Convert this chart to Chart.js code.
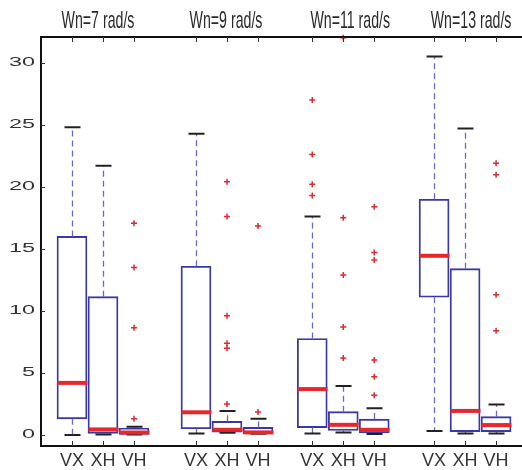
<!DOCTYPE html>
<html>
<head>
<meta charset="utf-8">
<script src="https://cdn.jsdelivr.net/npm/chart.js@4.4.1/dist/chart.umd.min.js"></script>
<style>
  html, body { margin: 0; padding: 0; background: #fff; }
  canvas { display: block; }
</style>
</head>
<body>
<canvas id="chart" width="522" height="470"></canvas>
<script>
// data
const groupTitles = ["Wn=7 rad/s", "Wn=9 rad/s", "Wn=11 rad/s", "Wn=13 rad/s"];
const categories = ["VX", "XH", "VH", "VX", "XH", "VH", "VX", "XH", "VH", "VX", "XH", "VH"];
const lowerWhisker = [0.0, 0.05, 0.05, 0.13, 0.19, 0.1, 0.13, 0.21, 0.08, 0.32, 0.13, 0.13];
const q1 = [1.3, 0.13, 0.05, 0.51, 0.22, 0.1, 0.6, 0.36, 0.17, 11.1, 0.27, 0.27];
const median = [4.2, 0.45, 0.2, 1.83, 0.42, 0.21, 3.7, 0.82, 0.42, 14.44, 1.94, 0.8];
const q3 = [16.0, 11.15, 0.56, 13.6, 1.1, 0.61, 7.77, 1.88, 1.28, 19.0, 13.4, 1.48];
const upperWhisker = [24.8, 21.7, 0.66, 24.27, 1.94, 1.3, 17.6, 3.95, 2.15, 30.5, 24.7, 2.45];
const outliers = [
  [], [], [17.07, 13.5, 8.65, 1.3],
  [], [20.4, 17.6, 9.6, 7.4, 7.0, 2.5], [16.85, 1.85],
  [27.0, 22.6, 20.2, 19.3], [32.0, 17.5, 12.9, 8.7, 6.2], [18.4, 14.7, 14.1, 6.05, 4.7, 3.2],
  [], [], [21.9, 20.97, 11.3, 8.4]
];
const yTicks = [0, 5, 10, 15, 20, 25, 30];

// layout: box centres on the x scale (one unit = one box spacing)
const positions = [1, 2, 3, 5, 6, 7, 8.75, 9.75, 10.75, 12.68, 13.68, 14.68];
const titleShift = [-5, -1, 7, 6];

const BOX_BLUE = "#3838aa";
const WHISKER_BLUE = "#6a6ac4";
const RED = "#e8262b";
const INK = "#111";

const outlierPoints = [];
outliers.forEach(function (list, i) {
  list.forEach(function (v) { outlierPoints.push({ x: positions[i], y: v }); });
});

const boxParts = {
  id: "boxParts",
  afterDatasetsDraw(chart) {
    const ctx = chart.ctx;
    const x = chart.scales.x, y = chart.scales.y;
    ctx.save();
    positions.forEach(function (p, i) {
      const cx = Math.round(x.getPixelForValue(p)) + 0.5;
      const half = 15;
      const capHalf = 8;
      // whiskers
      ctx.strokeStyle = WHISKER_BLUE;
      ctx.lineWidth = 1.3;
      ctx.setLineDash([6, 4]);
      ctx.beginPath();
      ctx.moveTo(cx, y.getPixelForValue(q3[i]));
      ctx.lineTo(cx, y.getPixelForValue(upperWhisker[i]));
      ctx.moveTo(cx, y.getPixelForValue(q1[i]));
      ctx.lineTo(cx, y.getPixelForValue(lowerWhisker[i]));
      ctx.stroke();
      ctx.setLineDash([]);
      // caps
      ctx.strokeStyle = "#222";
      ctx.lineWidth = 2;
      ctx.beginPath();
      [upperWhisker[i], lowerWhisker[i]].forEach(function (v) {
        const py = y.getPixelForValue(v);
        ctx.moveTo(cx - capHalf, py);
        ctx.lineTo(cx + capHalf, py);
      });
      ctx.stroke();
      // median
      ctx.strokeStyle = RED;
      ctx.lineWidth = 4;
      ctx.beginPath();
      const my = y.getPixelForValue(median[i]);
      ctx.moveTo(cx - half, my);
      ctx.lineTo(cx + half, my);
      ctx.stroke();
    });
    ctx.restore();
  },
  afterDraw(chart) {
    const ctx = chart.ctx;
    const a = chart.chartArea;
    const x = chart.scales.x, y = chart.scales.y;
    ctx.save();
    // axis frame (left, top, bottom)
    ctx.strokeStyle = INK;
    ctx.lineWidth = 2;
    ctx.beginPath();
    ctx.moveTo(a.right, a.top);
    ctx.lineTo(a.left, a.top);
    ctx.lineTo(a.left, a.bottom);
    ctx.lineTo(a.right, a.bottom);
    ctx.stroke();
    // ticks
    ctx.lineWidth = 1;
    ctx.strokeStyle = "#333";
    ctx.beginPath();
    yTicks.forEach(function (t) {
      const py = Math.round(y.getPixelForValue(t)) + 0.5;
      ctx.moveTo(a.left, py);
      ctx.lineTo(a.left + 4, py);
    });
    positions.forEach(function (p) {
      const px = Math.round(x.getPixelForValue(p)) + 0.5;
      ctx.moveTo(px, a.top);
      ctx.lineTo(px, a.top + 5);
      ctx.moveTo(px, a.bottom);
      ctx.lineTo(px, a.bottom - 5);
    });
    ctx.stroke();
    // y tick labels (wide, flat digits)
    ctx.fillStyle = "#333";
    ctx.font = "12px 'Liberation Sans', Arial, sans-serif";
    ctx.textAlign = "right";
    ctx.textBaseline = "middle";
    yTicks.forEach(function (t) {
      ctx.save();
      ctx.translate(a.left - 6, y.getPixelForValue(t));
      ctx.scale(1.95, 1);
      ctx.fillText(String(t), 0, 0);
      ctx.restore();
    });
    // category labels
    ctx.font = "18px 'Liberation Sans', Arial, sans-serif";
    ctx.textAlign = "center";
    ctx.textBaseline = "middle";
    categories.forEach(function (c, i) {
      ctx.fillText(c, x.getPixelForValue(positions[i]), a.bottom + 15);
    });
    // group titles (condensed)
    ctx.fillStyle = "#2a2a2a";
    ctx.font = "24px 'Liberation Sans', Arial, sans-serif";
    ctx.textBaseline = "alphabetic";
    groupTitles.forEach(function (t, g) {
      ctx.save();
      ctx.translate(x.getPixelForValue(positions[g * 3 + 1]) + titleShift[g], 28);
      ctx.scale(0.59, 1);
      ctx.fillText(t, 0, 0);
      ctx.restore();
    });
    ctx.restore();
  }
};

new Chart(document.getElementById("chart"), {
  type: "bar",
  data: {
    datasets: [
      {
        type: "bar",
        data: positions.map(function (p, i) { return { x: p, y: [q1[i], q3[i]] }; }),
        backgroundColor: "rgba(0,0,0,0)",
        borderColor: BOX_BLUE,
        borderWidth: 1.2,
        borderSkipped: false,
        barThickness: 30
      },
      {
        type: "scatter",
        data: outlierPoints,
        showLine: false,
        pointStyle: "cross",
        pointRadius: 3,
        pointBorderWidth: 1.5,
        borderColor: RED,
        backgroundColor: RED,
        clip: false
      }
    ]
  },
  options: {
    responsive: false,
    animation: false,
    devicePixelRatio: 1,
    layout: { autoPadding: false, padding: { left: 41, top: 37, right: 0, bottom: 24 } },
    scales: {
      x: { type: "linear", min: 0, max: 15.516, offset: false, display: false },
      y: { type: "linear", min: -0.886, max: 32.07, display: false }
    },
    plugins: { legend: { display: false }, tooltip: { enabled: false } }
  },
  plugins: [boxParts]
});
</script>
</body>
</html>
